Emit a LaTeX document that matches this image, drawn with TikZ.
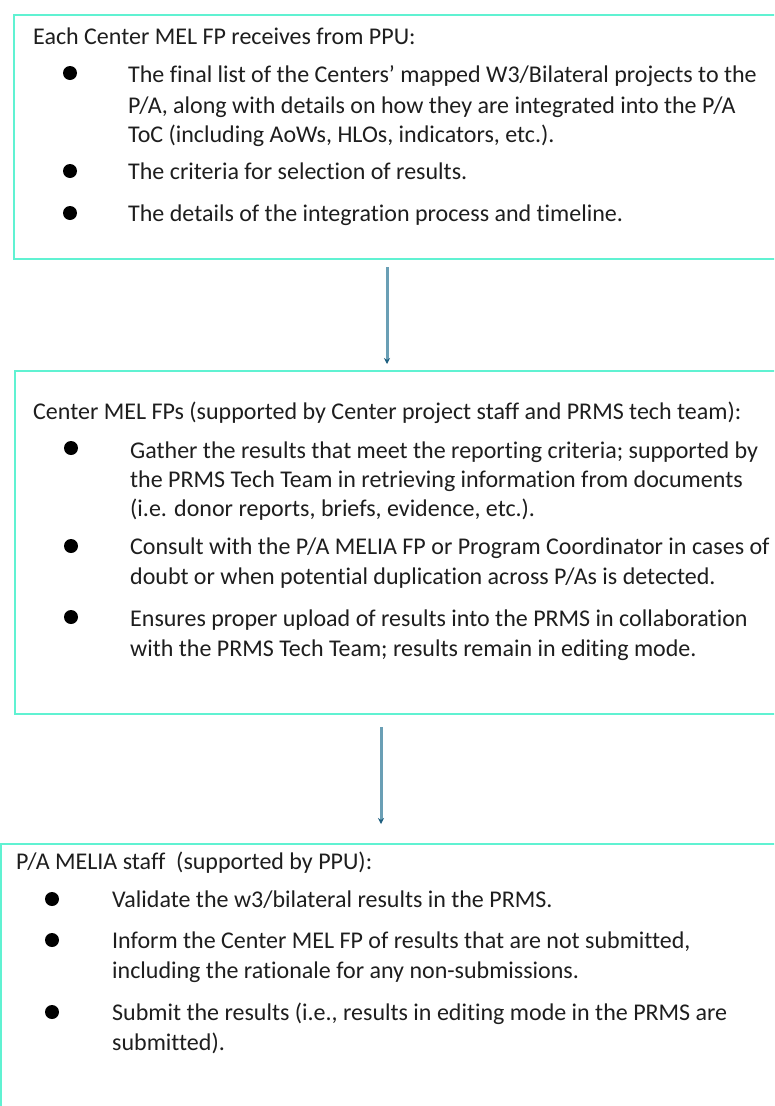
\documentclass[tikz,border=0pt]{standalone}
\usepackage{fontspec}
\setmainfont{Carlito}[Ligatures={NoCommon}]
\usetikzlibrary{arrows.meta,calc}
\definecolor{boxline}{RGB}{96,242,210}
\definecolor{arrline}{RGB}{106,159,181}
\definecolor{arrtip}{RGB}{31,96,128}
\definecolor{txt}{RGB}{30,30,30}
\tikzset{
  panel/.style={draw=boxline, line width=2pt, rectangle, inner sep=0pt, anchor=north west},
  ln/.style={anchor=base west, inner sep=0pt, text=txt, font=\fontsize{24}{28}\selectfont},
  dot/.style={circle, fill=black, inner sep=0pt, minimum size=14pt},
  flow/.style={draw=arrline, line width=3pt, -{Stealth[length=6pt,width=6pt,color=arrtip]}}
}
\begin{document}
\begin{tikzpicture}[x=1pt,y=-1pt]
\useasboundingbox (0,0) rectangle (774,1106);
\clip (0,0) rectangle (774,1106);
\fill[white] (0,0) rectangle (774,1106);
% panels
\node[panel, minimum width=790pt, minimum height=244pt] (box1) at (13,14) {};
\node[panel, minimum width=790pt, minimum height=343pt] (box2) at (14,370) {};
\node[panel, minimum width=800pt, minimum height=300pt] (box3) at (0,843) {};
% box 1 text
\node[ln] (h1) at (33,44) {Each Center MEL FP receives from PPU:};
\node[dot] (b11) at (70,73) {};
\node[ln] (t11a) at (128,82) {The final list of the Centers’ mapped W3/Bilateral projects to the};
\node[ln] (t11b) at (128,113) {P/A, along with details on how they are integrated into the P/A};
\node[ln] (t11c) at (128,142) {ToC (including AoWs, HLOs, indicators, etc.).};
\node[dot] (b12) at (70,171) {};
\node[ln] (t12a) at (128,179) {The criteria for selection of results.};
\node[dot] (b13) at (70,213) {};
\node[ln] (t13a) at (128,221) {The details of the integration process and timeline.};
% box 2 text
\node[ln] (h2) at (33,419) {Center MEL FPs (supported by Center project staff and PRMS tech team):};
\node[dot] (b21) at (71,448) {};
\node[ln] (t21a) at (130,458) {Gather the results that meet the reporting criteria; supported by};
\node[ln] (t21b) at (130,487) {the PRMS Tech Team in retrieving information from documents};
\node[ln] (t21c) at (130,516) {(i.e. donor reports, briefs, evidence, etc.).};
\node[dot] (b22) at (71,546) {};
\node[ln] (t22a) at (130,554) {Consult with the P/A MELIA FP or Program Coordinator in cases of};
\node[ln] (t22b) at (130,584) {doubt or when potential duplication across P/As is detected.};
\node[dot] (b23) at (71,617) {};
\node[ln] (t23a) at (130,626) {Ensures proper upload of results into the PRMS in collaboration};
\node[ln] (t23b) at (130,656) {with the PRMS Tech Team; results remain in editing mode.};
% box 3 text
\node[ln] (h3) at (16,869) {P/A MELIA staff~ (supported by PPU):};
\node[dot] (b31) at (52,899) {};
\node[ln] (t31a) at (112,907) {Validate the w3/bilateral results in the PRMS.};
\node[dot] (b32) at (52,940) {};
\node[ln] (t32a) at (112,948) {Inform the Center MEL FP of results that are not submitted,};
\node[ln] (t32b) at (112,978) {including the rationale for any non-submissions.};
\node[dot] (b33) at (52,1012) {};
\node[ln] (t33a) at (112,1020) {Submit the results (i.e., results in editing mode in the PRMS are};
\node[ln] (t33b) at (112,1050) {submitted).};
% arrows
\coordinate (a1) at (387,267);
\coordinate (a2) at (381,727);
\draw[flow, shorten >=6pt] (a1) -- (a1 |- box2.north);
\draw[flow, shorten >=19pt] (a2) -- (a2 |- box3.north);
\end{tikzpicture}
\end{document}
